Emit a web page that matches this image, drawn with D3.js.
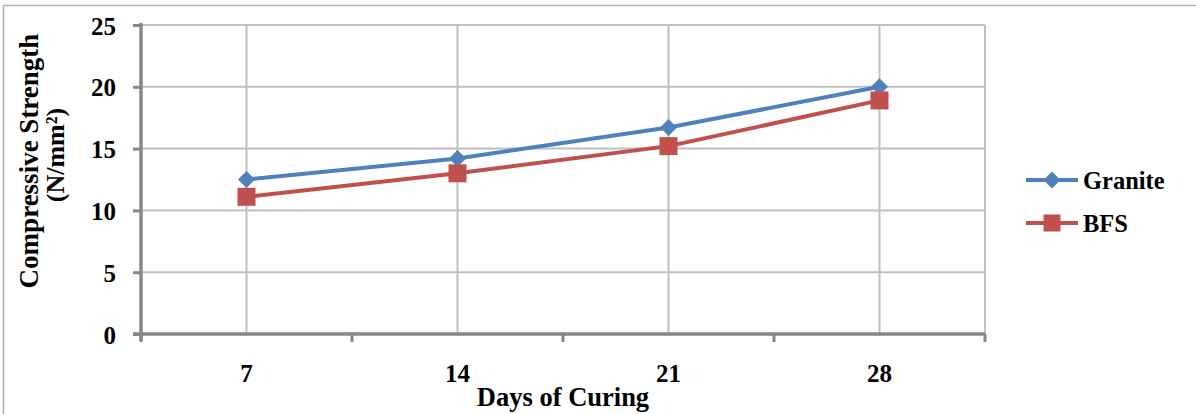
<!DOCTYPE html>
<html>
<head>
<meta charset="utf-8">
<script src="https://cdn.jsdelivr.net/npm/d3@7"></script>
<style>
  html, body { margin: 0; padding: 0; background: #fff; }
  svg { display: block; }
  text { font-family: "Liberation Serif", "Times New Roman", serif; font-weight: bold; fill: #000; }
</style>
</head>
<body>
<svg id="chart" width="1196" height="414"></svg>
<script>
const categories = ["7", "14", "21", "28"];
const granite = [12.5, 14.2, 16.7, 20.0];
const bfs = [11.1, 13.0, 15.2, 18.9];
const yTicks = [0, 5, 10, 15, 20, 25];
const seriesNames = ["Granite", "BFS"];
const xTitle = "Days of Curing";
const yTitle1 = "Compressive Strength";
const yTitle2 = "(N/mm²)";

const svg = d3.select("#chart");
const pL = 141, pR = 985, pT = 25, pB = 334;

// outer frame
svg.append("rect").attr("x", 3.5).attr("y", 5.5).attr("width", 1210).attr("height", 430)
  .attr("fill", "#fff").attr("stroke", "#b0b0b0").attr("stroke-width", 1.5);

const x = d3.scaleBand().domain(categories).range([pL, pR]).padding(0);
const y = d3.scaleLinear().domain([0, 25]).range([pB, pT]);
const xc = d => x(d) + x.bandwidth() / 2;

const grid = "#c0c0c0";
svg.append("g").selectAll("line").data(yTicks.filter(t => t > 0)).join("line")
  .attr("x1", pL).attr("x2", pR).attr("y1", d => y(d)).attr("y2", d => y(d))
  .attr("stroke", grid).attr("stroke-width", 2);
svg.append("g").selectAll("line").data(categories).join("line")
  .attr("x1", d => xc(d)).attr("x2", d => xc(d)).attr("y1", pT).attr("y2", pB)
  .attr("stroke", grid).attr("stroke-width", 2);
svg.append("line").attr("x1", pR).attr("x2", pR).attr("y1", pT).attr("y2", pB)
  .attr("stroke", grid).attr("stroke-width", 2);

// axes
const axisCol = "#878787";
const yAxis = svg.append("g").attr("transform", `translate(${pL},0)`)
  .call(d3.axisLeft(y).tickValues(yTicks).tickSize(8).tickPadding(17));
yAxis.select(".domain").attr("stroke", axisCol).attr("stroke-width", 3.5).attr("d", `M0,${pT - 2}V${pB + 7}`);
yAxis.selectAll(".tick line").attr("stroke", axisCol).attr("stroke-width", 3);
yAxis.selectAll(".tick text").attr("font-size", 25).attr("fill", "#000").attr("dy", "0.36em")
  .attr("font-family", "Liberation Serif").attr("font-weight", "bold");

const xAxis = svg.append("g").attr("transform", `translate(0,${pB})`)
  .call(d3.axisBottom(x).tickSize(0).tickPadding(0));
xAxis.select(".domain").attr("stroke", axisCol).attr("stroke-width", 3.5).attr("d", `M${pL - 8},0H${pR}`);
xAxis.selectAll(".tick text").attr("font-size", 25).attr("fill", "#000").attr("y", 48).attr("dy", 0)
  .attr("font-family", "Liberation Serif").attr("font-weight", "bold");
const bounds = categories.map(c => x(c)).concat([pR]);
svg.append("g").selectAll("line").data(bounds).join("line")
  .attr("x1", d => d).attr("x2", d => d).attr("y1", pB).attr("y2", pB + 8)
  .attr("stroke", axisCol).attr("stroke-width", 3);

// axis titles
svg.append("text").attr("x", 563).attr("y", 406).attr("text-anchor", "middle")
  .attr("font-size", 26.5).text(xTitle);
svg.append("text").attr("transform", "translate(38,161) rotate(-90)").attr("text-anchor", "middle")
  .attr("font-size", 27).text(yTitle1);
svg.append("text").attr("transform", "translate(64,155) rotate(-90)").attr("text-anchor", "middle")
  .attr("font-size", 26).text(yTitle2);

// series
const colors = ["#4f81bd", "#c0504d"];
const line = d3.line().x((d, i) => xc(categories[i])).y(d => y(d));
[granite, bfs].forEach((s, k) => {
  svg.append("path").datum(s).attr("d", line).attr("fill", "none")
    .attr("stroke", colors[k]).attr("stroke-width", 4).attr("stroke-linejoin", "round");
});
const diamond = (cx, cy, r) => `M${cx},${cy - r}L${cx + r},${cy}L${cx},${cy + r}L${cx - r},${cy}Z`;
svg.append("g").selectAll("path").data(granite).join("path")
  .attr("d", (d, i) => diamond(xc(categories[i]), y(d), 8.5)).attr("fill", colors[0]);
svg.append("g").selectAll("rect").data(bfs).join("rect")
  .attr("x", (d, i) => xc(categories[i]) - 9).attr("y", d => y(d) - 9)
  .attr("width", 18).attr("height", 18).attr("fill", colors[1]);

// legend
const legY = [180, 223];
seriesNames.forEach((n, k) => {
  const g = svg.append("g");
  g.append("line").attr("x1", 1026).attr("x2", 1078).attr("y1", legY[k]).attr("y2", legY[k])
    .attr("stroke", colors[k]).attr("stroke-width", 4);
  if (k === 0) g.append("path").attr("d", diamond(1052, legY[k], 8.5)).attr("fill", colors[k]);
  else g.append("rect").attr("x", 1043.5).attr("y", legY[k] - 8.5).attr("width", 17).attr("height", 17).attr("fill", colors[k]);
  g.append("text").attr("x", 1083).attr("y", legY[k] + 8.5).attr("font-size", 24.5).text(n);
});
</script>
</body>
</html>
